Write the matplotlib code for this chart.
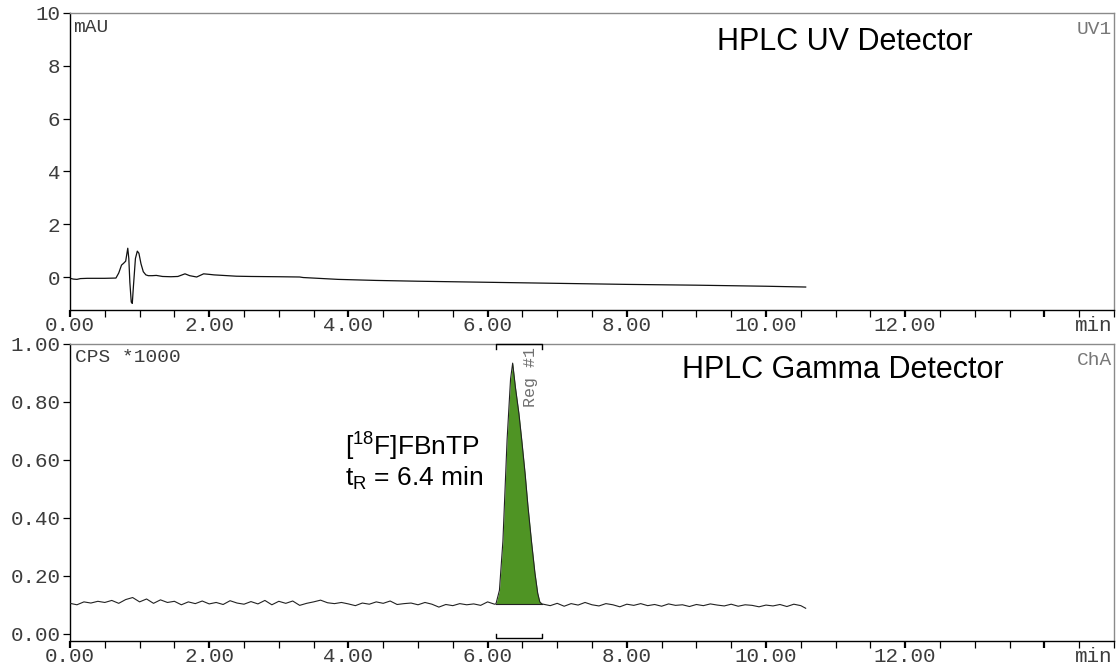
import numpy as np
import matplotlib
matplotlib.use("Agg")
import matplotlib.pyplot as plt
from matplotlib.ticker import MultipleLocator
from matplotlib.transforms import offset_copy

plt.rcParams['mathtext.fontset'] = 'custom'
plt.rcParams['mathtext.rm'] = 'Liberation Sans'
plt.rcParams['mathtext.it'] = 'Liberation Sans'

# ---------------- data ----------------
# UV trace (time in min, mAU)
uv_t = [0.00, 0.05, 0.10, 0.15, 0.25, 0.50, 0.66, 0.70, 0.74, 0.77, 0.80, 0.83, 0.845,
        0.86, 0.88, 0.895, 0.91, 0.94, 0.967, 0.99, 1.02, 1.053, 1.09, 1.125, 1.18, 1.24,
        1.33, 1.45, 1.55, 1.652, 1.72, 1.82, 1.87, 1.92, 2.00, 2.07, 2.20, 2.39, 2.60,
        3.00, 3.30, 3.35, 3.85, 4.40, 5.00, 6.00, 7.00, 8.00, 9.00, 10.00, 10.57]
uv_v = [-0.05, -0.08, -0.09, -0.06, -0.05, -0.05, -0.04, 0.15, 0.45, 0.52, 0.60, 1.09, 0.70,
        -0.20, -0.95, -1.00, -0.40, 0.70, 0.98, 0.90, 0.50, 0.20, 0.08, 0.05, 0.05, 0.06,
        0.02, 0.01, 0.02, 0.12, 0.05, 0.00, 0.06, 0.12, 0.10, 0.08, 0.06, 0.03, 0.02,
        0.01, 0.00, -0.02, -0.09, -0.13, -0.16, -0.20, -0.24, -0.28, -0.31, -0.35, -0.38]

# Gamma trace (time in min, CPS*1000)
gam_pre_v = [0.105, 0.100, 0.110, 0.106, 0.112, 0.108, 0.115, 0.105, 0.118, 0.125,
             0.110, 0.120, 0.105, 0.117, 0.108, 0.112, 0.100, 0.110, 0.104, 0.113,
             0.103, 0.108, 0.101, 0.114, 0.106, 0.102, 0.111, 0.103, 0.115, 0.100,
             0.112, 0.105, 0.113, 0.098, 0.105, 0.110, 0.116, 0.107, 0.104, 0.108,
             0.103, 0.097, 0.106, 0.102, 0.110, 0.105, 0.113, 0.101, 0.104, 0.106,
             0.100, 0.108, 0.102, 0.092, 0.101, 0.097, 0.104, 0.100, 0.103, 0.098,
             0.110, 0.102]
gam_pre_t = [round(0.1 * i, 2) for i in range(len(gam_pre_v))]

peak_t = [6.12, 6.17, 6.22, 6.28, 6.33, 6.36, 6.40, 6.45, 6.49, 6.54, 6.58, 6.63,
          6.68, 6.72, 6.75, 6.78]
peak_v = [0.103, 0.15, 0.32, 0.67, 0.88, 0.934, 0.85, 0.76, 0.67, 0.55, 0.44, 0.32,
          0.21, 0.14, 0.11, 0.103]

gam_post_t = [6.9, 7.0, 7.1, 7.2, 7.3, 7.4, 7.5, 7.6, 7.7, 7.8, 7.9, 8.0, 8.1, 8.2,
              8.3, 8.4, 8.5, 8.6, 8.7, 8.8, 8.9, 9.0, 9.1, 9.2, 9.3, 9.4, 9.5, 9.6,
              9.7, 9.8, 9.9, 10.0, 10.1, 10.2, 10.3, 10.4, 10.5, 10.57]
gam_post_v = [0.097, 0.105, 0.095, 0.104, 0.099, 0.108, 0.100, 0.096, 0.104, 0.100,
              0.093, 0.102, 0.098, 0.104, 0.097, 0.101, 0.095, 0.103, 0.098, 0.100,
              0.094, 0.101, 0.097, 0.103, 0.099, 0.096, 0.102, 0.095, 0.100, 0.098,
              0.093, 0.099, 0.096, 0.101, 0.094, 0.102, 0.097, 0.088]

peak_baseline = 0.103
region_start, region_end = 6.12, 6.78

x_major = [0, 2, 4, 6, 8, 10, 12, 14]
x_labels = ["0.00", "2.00", "4.00", "6.00", "8.00", "10.00", "12.00", ""]
uv_yticks = [0, 2, 4, 6, 8, 10]
uv_ylabels = ["0", "2", "4", "6", "8", "10"]
gam_yticks = [0.0, 0.2, 0.4, 0.6, 0.8, 1.0]
gam_ylabels = ["0.00", "0.20", "0.40", "0.60", "0.80", "1.00"]

# ---------------- figure ----------------
W, H = 1117, 666
fig = plt.figure(figsize=(W / 100, H / 100), dpi=100)

def px_axes(x0, x1, y0, y1):
    return fig.add_axes([x0 / W, 1 - y1 / H, (x1 - x0) / W, (y1 - y0) / H])

ax1 = px_axes(70, 1114, 13, 310)
ax2 = px_axes(70, 1114, 344, 641)

MONO = 'Liberation Mono'
SANS = 'Liberation Sans'
tick_color = '#3c3c3c'

for ax in (ax1, ax2):
    ax.set_xlim(0, 15)
    ax.set_xticks(x_major)
    ax.set_xticklabels(x_labels)
    ax.xaxis.set_minor_locator(MultipleLocator(0.5))
    ax.tick_params(axis='x', which='major', length=5, width=1.6, pad=-1,
                   labelsize=15, labelcolor=tick_color, color='black')
    ax.tick_params(axis='x', which='minor', length=5, width=0.9, color='black')
    ax.tick_params(axis='y', which='major', length=5, width=0.9, pad=2,
                   labelsize=15, labelcolor=tick_color, color='black')
    for lab in ax.get_xticklabels() + ax.get_yticklabels():
        lab.set_fontfamily(MONO)
    ax.spines['top'].set_color('#8a8a8a')
    ax.spines['right'].set_color('#8a8a8a')
    ax.spines['left'].set_color('black')
    ax.spines['bottom'].set_color('black')
    for s in ax.spines.values():
        s.set_linewidth(1.0)
    tr = offset_copy(ax.transAxes, fig=fig, x=-1, y=-4, units='points')
    ax.text(1.0, 0.0, "min", transform=tr, ha='right', va='top',
            fontsize=15, family=MONO, color=tick_color)

# Top panel: UV
ax1.plot(uv_t, uv_v, color='#111111', lw=0.9)
ax1.set_ylim(-1.25, 10)
ax1.set_yticks(uv_yticks)
ax1.set_yticklabels(uv_ylabels)
for lab in ax1.get_yticklabels():
    lab.set_fontfamily(MONO)
ax1.text(0.003, 0.95, "mAU", transform=ax1.transAxes, ha='left', va='center',
         fontsize=14, family=MONO, color=tick_color)
ax1.text(0.998, 0.945, "UV1", transform=ax1.transAxes, ha='right', va='center',
         fontsize=14, family=MONO, color='#777777')
ax1.text(0.742, 0.902, "HPLC UV Detector", transform=ax1.transAxes, ha='center',
         va='center', fontsize=22, family=SANS, color='black')

# Bottom panel: Gamma
gam_t = gam_pre_t + peak_t + gam_post_t
gam_v = gam_pre_v + peak_v + gam_post_v
ax2.fill_between(peak_t, peak_baseline, peak_v, color='#4f9424', lw=0, zorder=2)
ax2.plot(gam_t, gam_v, color='#222222', lw=0.8, zorder=3)
ax2.plot([region_start, region_end], [peak_baseline, peak_baseline], color='#222222',
         lw=0.8, zorder=3)
ax2.set_ylim(-0.025, 1.0)
ax2.set_yticks(gam_yticks)
ax2.set_yticklabels(gam_ylabels)
for lab in ax2.get_yticklabels():
    lab.set_fontfamily(MONO)

# region brackets
bk = dict(color='black', lw=1.0, clip_on=False, zorder=5)
ax2.plot([region_start, region_start, region_end, region_end],
         [0.982, 1.0, 1.0, 0.982], **bk)
ax2.plot([region_start, region_start, region_end, region_end],
         [0.0, -0.016, -0.016, 0.0], **bk)
ax2.text(6.61, 0.99, "Reg #1", rotation=90, ha='center', va='top', fontsize=12,
         family=MONO, color='#707070')

ax2.text(0.005, 0.953, "CPS *1000", transform=ax2.transAxes, ha='left', va='center',
         fontsize=14, family=MONO, color=tick_color)
ax2.text(0.998, 0.946, "ChA", transform=ax2.transAxes, ha='right', va='center',
         fontsize=14, family=MONO, color='#777777')
ax2.text(0.740, 0.913, "HPLC Gamma Detector", transform=ax2.transAxes, ha='center',
         va='center', fontsize=22, family=SANS, color='black')

fig.text(345 / W, 1 - 447 / H, r"[$^{18}$F]FBnTP", ha='left', va='center',
         fontsize=19, family=SANS, color='black')
fig.text(345 / W, 1 - 478 / H, r"t$_{\mathrm{R}}$ = 6.4 min", ha='left', va='center',
         fontsize=19, family=SANS, color='black')

fig.savefig("out.png", dpi=100)
